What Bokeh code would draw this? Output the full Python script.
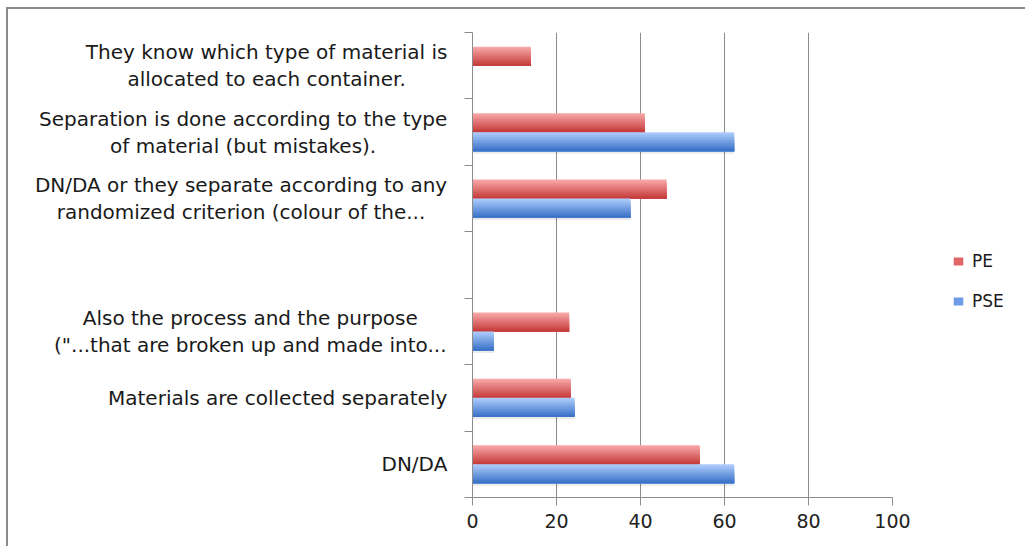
import os
import struct
from bokeh.plotting import figure
from bokeh.models import ColumnDataSource, Range1d, FixedTicker, Legend, LegendItem
from bokeh.transform import dodge
from bokeh.layouts import row
from bokeh.core.properties import value
from bokeh.embed import file_html
from bokeh.resources import INLINE

# ---- data (top to bottom) ----
categories = [
    "They know which type of material is\nallocated to each container.",
    "Separation is done according to the type\nof material (but mistakes).",
    "DN/DA or they separate according to any\nrandomized criterion (colour of the...",
    "",
    "Also the process and the purpose\n(\"...that are broken up and made into...",
    "Materials are collected separately",
    "DN/DA",
]
pe_values = [13.9, 41.0, 46.2, float("nan"), 23.0, 23.4, 54.1]
pse_values = [0.0, 62.3, 37.6, float("nan"), 5.1, 24.3, 62.3]
series_names = ["PE", "PSE"]
series_colors = ["#e06666", "#6e9ce6"]
x_ticks = [0, 20, 40, 60, 80, 100]

FONT = "DejaVu Sans"
FONT_FILE = "DejaVuSans.ttf"
LABEL_PX = 20


# ---- simple TrueType advance-width reader (to centre multi-line labels) ----
def find_font(name):
    for root in ("/usr/share/fonts", "/usr/local/share/fonts",
                 os.path.expanduser("~/.fonts"), os.path.expanduser("~/.local/share/fonts")):
        for dp, _, files in os.walk(root):
            if name in files:
                return os.path.join(dp, name)
    return None


def load_metrics(path):
    data = open(path, "rb").read()
    nt = struct.unpack(">H", data[4:6])[0]
    tables = {}
    for i in range(nt):
        tag, _, off, ln = struct.unpack(">4sIII", data[12 + 16 * i:28 + 16 * i])
        tables[tag.decode("latin1")] = off
    upem = struct.unpack(">H", data[tables["head"] + 18:tables["head"] + 20])[0]
    nhm = struct.unpack(">H", data[tables["hhea"] + 34:tables["hhea"] + 36])[0]
    ho = tables["hmtx"]
    adv = [struct.unpack(">H", data[ho + 4 * i:ho + 4 * i + 2])[0] for i in range(nhm)]
    co = tables["cmap"]
    nsub = struct.unpack(">H", data[co + 2:co + 4])[0]
    cmap = {}
    for i in range(nsub):
        pid, eid, soff = struct.unpack(">HHI", data[co + 4 + 8 * i:co + 12 + 8 * i])
        st = co + soff
        fmt = struct.unpack(">H", data[st:st + 2])[0]
        if fmt != 4:
            continue
        segx2 = struct.unpack(">H", data[st + 6:st + 8])[0]
        seg = segx2 // 2
        ends = struct.unpack(">%dH" % seg, data[st + 14:st + 14 + segx2])
        so = st + 16 + segx2
        starts = struct.unpack(">%dH" % seg, data[so:so + segx2])
        do = so + segx2
        deltas = struct.unpack(">%dh" % seg, data[do:do + segx2])
        ro = do + segx2
        ros = struct.unpack(">%dH" % seg, data[ro:ro + segx2])
        for s in range(seg):
            for c in range(starts[s], min(ends[s], 0x2FF) + 1):
                if ros[s] == 0:
                    g = (c + deltas[s]) & 0xFFFF
                else:
                    a = ro + 2 * s + ros[s] + 2 * (c - starts[s])
                    g = struct.unpack(">H", data[a:a + 2])[0]
                    if g:
                        g = (g + deltas[s]) & 0xFFFF
                cmap[c] = g
        break
    return upem, adv, cmap


_metrics = None
try:
    _fp = find_font(FONT_FILE)
    if _fp:
        _metrics = load_metrics(_fp)
except Exception:
    _metrics = None


def text_width(s, px):
    if _metrics is None:
        return len(s) * 0.58 * px
    upem, adv, cmap = _metrics
    tot = 0
    for ch in s:
        g = cmap.get(ord(ch), 0)
        tot += adv[min(g, len(adv) - 1)]
    return tot * px / upem


n = len(categories)
ypos = [n - i - 0.5 for i in range(n)]
RIGHT_EDGE = 439  # right edge of label block inside the label panel
label_x = [RIGHT_EDGE - max(text_width(l, LABEL_PX) for l in c.split("\n")) / 2 for c in categories]
src = ColumnDataSource(dict(y=ypos, label=categories, lx=label_x, pe=pe_values, pse=pse_values))

yr = Range1d(0, n)
H = 537

# ---- label panel ----
lab = figure(width=444, height=H, x_range=Range1d(0, 444), y_range=yr,
             output_backend="svg", toolbar_location=None,
             min_border_left=0, min_border_right=0, min_border_top=23, min_border_bottom=49)
lab.axis.visible = False
lab.grid.visible = False
lab.outline_line_color = None
lab.text(x="lx", y="y", text="label", source=src, text_font=value(FONT),
         text_font_size="%dpx" % LABEL_PX, text_color="#1a1a1a", text_align="center",
         text_baseline="middle", text_line_height=1.12)

# ---- main chart ----
p = figure(width=470, height=H, x_range=Range1d(0, 100), y_range=yr,
           output_backend="svg", toolbar_location=None,
           min_border_left=20, min_border_right=30, min_border_top=23, min_border_bottom=49)
p.outline_line_color = None
p.ygrid.grid_line_color = None
p.xgrid.grid_line_color = "#8c8c8c"
p.xgrid.ticker = FixedTicker(ticks=x_ticks)
p.xaxis.ticker = FixedTicker(ticks=x_ticks)
p.yaxis.ticker = FixedTicker(ticks=list(range(n + 1)))
for ax in (p.xaxis, p.yaxis):
    ax.axis_line_color = "#8c8c8c"
    ax.major_tick_line_color = "#8c8c8c"
    ax.major_tick_out = 8
    ax.major_tick_in = 0
    ax.minor_tick_line_color = None
p.yaxis.major_label_overrides = {i: "" for i in range(n + 1)}
p.yaxis.major_label_standoff = 0
p.xaxis.major_label_text_font = FONT
p.xaxis.major_label_text_font_size = "19px"
p.xaxis.major_label_text_color = "#222222"
p.xaxis.major_label_standoff = 8


def mix(c1, c2, t):
    a = [int(c1[i:i + 2], 16) for i in (1, 3, 5)]
    b = [int(c2[i:i + 2], 16) for i in (1, 3, 5)]
    return "#%02x%02x%02x" % tuple(round(a[j] + (b[j] - a[j]) * t) for j in range(3))


BAR_H = 0.286
N = 12
specs = [("pe", +BAR_H / 2, "#f8a6a6", "#c63c3c"),
         ("pse", -BAR_H / 2, "#accbfb", "#3b73c8")]
# soft shadow below the bars
p.hbar(y=dodge("y", -BAR_H - 0.02), right="pse", left=0, height=0.035, source=src,
       fill_color="#000000", fill_alpha=0.08, line_color=None)
for col, center, ctop, cbot in specs:
    bottom = center - BAR_H / 2
    dh = BAR_H / N
    for k in range(N):
        t = k / (N - 1)
        hk = BAR_H - k * dh
        p.hbar(y=dodge("y", bottom + hk / 2), right=col, left=0, height=hk,
               source=src, fill_color=mix(ctop, cbot, t), line_color=None)

# ---- legend panel ----
lg = figure(width=103, height=H, x_range=Range1d(0, 1), y_range=Range1d(0, 1),
            output_backend="svg", toolbar_location=None,
            min_border_left=0, min_border_right=0, min_border_top=0, min_border_bottom=0)
lg.axis.visible = False
lg.grid.visible = False
lg.outline_line_color = None
# zero-length proxy bars: only used to give the legend its colour swatches
leg_src = ColumnDataSource(dict(name=series_names, color=series_colors,
                                y=[0.5] * len(series_names), zero=[0] * len(series_names)))
leg_r = lg.hbar(y="y", right="zero", left="zero", height=0.01, source=leg_src,
                fill_color="color", line_color=None)
legend = Legend(items=[LegendItem(label=series_names[i], renderers=[leg_r], index=i)
                       for i in range(len(series_names))],
                location=(30, 186), padding=0, margin=0, spacing=20,
                label_height=20, glyph_height=10, glyph_width=12, label_standoff=8,
                label_text_font=FONT, label_text_font_size="17px",
                label_text_color="#1a1a1a", border_line_color=None,
                background_fill_alpha=0)
lg.add_layout(legend, "center")

layout = row(lab, p, lg, styles={"border-top": "2px solid #8a8a8a",
                                 "border-left": "2px solid #8a8a8a",
                                 "margin-left": "6px", "margin-top": "7px"})

open("out.html", "w").write(file_html(layout, INLINE))
